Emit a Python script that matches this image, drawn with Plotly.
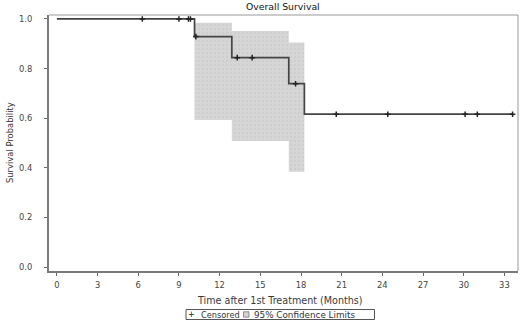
import numpy as np
import plotly.graph_objects as go

# Kaplan-Meier step curve (event times and survival after each step)
event_times = [0.0, 10.15, 12.9, 17.1, 18.25]
survival = [1.0, 0.929, 0.844, 0.739, 0.616]
end_time = 33.6

# Censored observation times
censor_times = [6.3, 9.0, 9.7, 9.85, 10.25, 13.3, 14.4, 17.6, 20.6, 24.4, 30.1, 31.0, 33.6]

# 95% confidence limits (step intervals)
ci_times = [10.15, 12.9, 17.1]
ci_end = 18.25
ci_upper = [0.985, 0.952, 0.905]
ci_lower = [0.593, 0.508, 0.384]

x_ticks = [0, 3, 6, 9, 12, 15, 18, 21, 24, 27, 30, 33]
y_ticks = [0.0, 0.2, 0.4, 0.6, 0.8, 1.0]

title_text = "Overall Survival"
x_title = "Time after 1st Treatment (Months)"
y_title = "Survival Probability"
legend_labels = ["Censored", "95% Confidence Limits"]


def step_vertices(t, v, t_end):
    xs, ys = [], []
    bounds = list(t[1:]) + [t_end]
    for i in range(len(t)):
        xs += [t[i], bounds[i]]
        ys += [v[i], v[i]]
    return xs, ys


ux, uy = step_vertices(ci_times, ci_upper, ci_end)
lx, ly = step_vertices(ci_times, ci_lower, ci_end)
poly_x = ux + lx[::-1] + [ux[0]]
poly_y = uy + ly[::-1] + [uy[0]]

sx, sy = step_vertices(event_times, survival, end_time)

idx = np.searchsorted(event_times, censor_times, side="right") - 1
censor_surv = [survival[i] for i in idx]

band_fill = "#d4d4d4"

fig = go.Figure()
fig.add_trace(go.Scatter(
    x=poly_x, y=poly_y, mode="lines", fill="toself",
    fillcolor=band_fill,
    fillpattern=dict(shape=".", bgcolor="#d6d6d6", fgcolor="#c6c6c6", size=4, solidity=0.3),
    line=dict(width=0, color=band_fill),
    name=legend_labels[1], showlegend=False, hoverinfo="skip",
))
fig.add_trace(go.Scatter(
    x=sx, y=sy, mode="lines", line=dict(color="#444444", width=1.7),
    showlegend=False,
))
fig.add_trace(go.Scatter(
    x=censor_times, y=censor_surv, mode="markers",
    marker=dict(symbol="cross-thin", size=4, line=dict(color="#222222", width=1.5)),
    name=legend_labels[0], showlegend=False,
))

font = "DejaVu Sans, Verdana, sans-serif"
txt = "#333333"

# paper-coordinate helpers for a plot area of 469 x 256 px (left 49, top 15)
def px(xp):
    return (xp - 49) / 469.0


def py(yp):
    return (271 - yp) / 256.0


annotations = [
    dict(text=title_text, x=px(283), y=py(6.5), xref="paper", yref="paper",
         showarrow=False, xanchor="center", yanchor="middle",
         font=dict(size=9.3, color="#111111", family=font)),
    dict(text=x_title, x=px(280), y=py(300.5), xref="paper", yref="paper",
         showarrow=False, xanchor="center", yanchor="middle",
         font=dict(size=9.6, color="#3a3a3a", family=font)),
    dict(text=y_title, x=px(10), y=py(143), xref="paper", yref="paper",
         showarrow=False, xanchor="center", yanchor="middle", textangle=-90,
         font=dict(size=8.4, color=txt, family=font)),
    dict(text="+", x=px(191.7), y=py(314.3), xref="paper", yref="paper",
         showarrow=False, xanchor="center", yanchor="middle",
         font=dict(size=8, color="#222222", family=font)),
    dict(text=legend_labels[0], x=px(198.5), y=py(314.5), xref="paper", yref="paper",
         showarrow=False, xanchor="left", yanchor="middle",
         font=dict(size=8.2, color=txt, family=font)),
    dict(text=legend_labels[1], x=px(251.5), y=py(314.5), xref="paper", yref="paper",
         showarrow=False, xanchor="left", yanchor="middle",
         font=dict(size=8.8, color=txt, family=font)),
]

shapes = [
    dict(type="line", xref="paper", yref="paper", x0=0, x1=1, y0=1, y1=1,
         line=dict(color="#999999", width=1)),
    dict(type="line", xref="paper", yref="paper", x0=1, x1=1, y0=0, y1=1,
         line=dict(color="#999999", width=1)),
    dict(type="rect", xref="paper", yref="paper", x0=px(186), x1=px(374.5),
         y0=py(309.5), y1=py(319.5), line=dict(color="#555555", width=1)),
    dict(type="rect", xref="paper", yref="paper", x0=px(243.5), x1=px(249),
         y0=py(311.8), y1=py(317.2), fillcolor=band_fill, line=dict(color="#777777", width=0.8)),
]

fig.update_layout(
    width=520, height=324,
    margin=dict(l=49, r=2, t=15, b=53, autoexpand=False),
    paper_bgcolor="white", plot_bgcolor="white",
    font=dict(family=font, size=8, color=txt),
    showlegend=False,
    xaxis=dict(range=[-0.58, 34.0], tickvals=x_ticks, ticktext=[str(v) for v in x_ticks],
               ticks="outside", ticklen=3, tickcolor="#666666", showgrid=False, zeroline=False,
               showline=True, linecolor="#7a7a7a", linewidth=2, automargin=False,
               ticklabelstandoff=2,
               tickfont=dict(size=8.4, color="#444444", family=font)),
    yaxis=dict(range=[-0.016, 1.016], tickvals=y_ticks, ticktext=[f"{v:.1f}" for v in y_ticks],
               ticks="outside", ticklen=3, tickcolor="#666666", showgrid=False, zeroline=False,
               showline=True, linecolor="#7a7a7a", linewidth=2, automargin=False,
               ticklabelstandoff=10,
               tickfont=dict(size=8.4, color="#444444", family=font)),
    annotations=annotations,
    shapes=shapes,
)

fig.write_html("out.html", config={"displayModeBar": False},
               post_script="document.body.style.margin='0';document.body.style.overflow='hidden';")
